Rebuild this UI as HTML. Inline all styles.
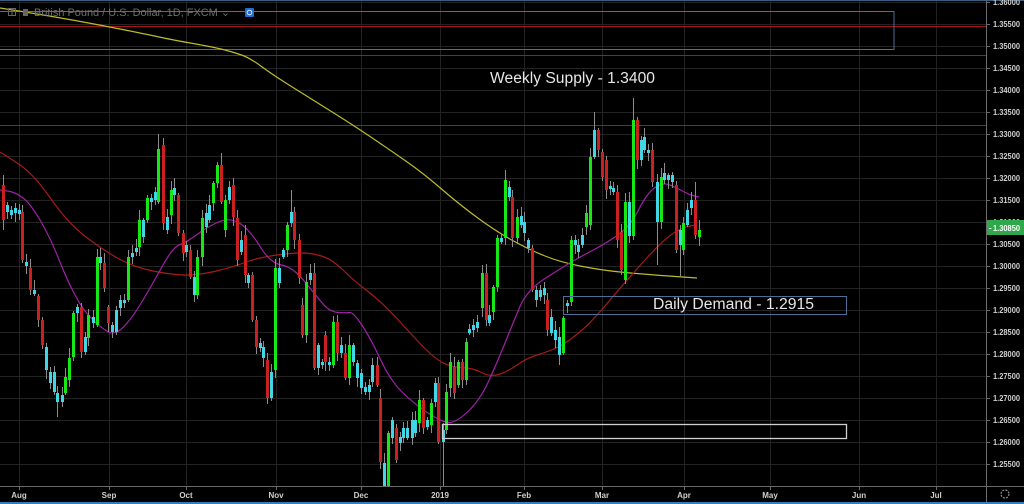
<!DOCTYPE html>
<html><head><meta charset="utf-8"><style>
html,body{margin:0;padding:0;background:#000;width:1024px;height:504px;overflow:hidden}
svg{display:block}
text{font-family:"Liberation Sans",Arial,sans-serif}
</style></head><body>
<svg id="s" width="1024" height="504" viewBox="0 0 1024 504" xmlns="http://www.w3.org/2000/svg">
<rect x="0" y="0" width="1024" height="504" fill="#000"/>
<g id="grid" stroke="#232323" stroke-width="1"></g>
<line x1="0" y1="0.5" x2="1024" y2="0.5" stroke="#3b5f80" stroke-width="1"/>
<!-- red horizontal levels -->
<line x1="0" y1="26.5" x2="986" y2="26.5" stroke="#a31818" stroke-width="1"/>
<line x1="0" y1="55.5" x2="986" y2="55.5" stroke="#a31818" stroke-width="1"/>
<line x1="0" y1="125.5" x2="986" y2="125.5" stroke="#a31818" stroke-width="1"/>
<!-- top blue zone -->
<rect x="-1" y="11.5" width="895" height="38" fill="none" stroke="#4d6e96" stroke-width="1"/>
<g id="ma"></g>
<g id="candles"></g>
<!-- demand boxes -->
<rect x="563.5" y="296.5" width="283" height="18" fill="none" stroke="#4d6e96" stroke-width="1"/>
<rect x="442.5" y="424.5" width="404" height="14" fill="none" stroke="#cfcfcf" stroke-width="1.3"/>
<text x="490" y="83" font-size="15.5" fill="#e6e6e6" textLength="165" lengthAdjust="spacingAndGlyphs">Weekly Supply - 1.3400</text>
<text x="653" y="309" font-size="15.5" fill="#e6e6e6" textLength="161" lengthAdjust="spacingAndGlyphs">Daily Demand - 1.2915</text>
<!-- title -->
<rect x="8.5" y="8.5" width="7" height="7" fill="none" stroke="#666" stroke-width="1"/>
<line x1="12" y1="9" x2="12" y2="15" stroke="#666"/>
<rect x="23" y="9" width="5" height="7" fill="#666"/>
<text x="34" y="16" font-size="11" fill="#6e6e6e" textLength="196" lengthAdjust="spacingAndGlyphs">British Pound / U.S. Dollar, 1D, FXCM ⌄</text>
<rect x="245" y="8" width="9" height="9" rx="1" fill="#1e6fd0"/>
<circle cx="249.5" cy="12.5" r="2.3" fill="none" stroke="#cfe3ff" stroke-width="1"/>
<!-- axes -->
<line x1="986.5" y1="0" x2="986.5" y2="502" stroke="#6a6a6a" stroke-width="1"/>
<line x1="0" y1="486.5" x2="1024" y2="486.5" stroke="#6a6a6a" stroke-width="1"/>
<g id="axis" font-size="8" font-weight="bold" fill="#cfcfcf"></g>
<rect x="987" y="220" width="37" height="15" fill="#2ea84a"/>
<text x="989" y="230.5" font-size="8" font-weight="bold" fill="#fff">-</text>
<text x="993" y="231" font-size="8" font-weight="bold" fill="#fff" textLength="27" lengthAdjust="spacingAndGlyphs">1.30850</text>
<circle cx="1005" cy="494" r="4" fill="none" stroke="#8a8a8a" stroke-width="1.2" stroke-dasharray="2 1.2"/>
<line x1="0" y1="503" x2="1024" y2="503" stroke="#2f7fc0" stroke-width="2"/>
</svg>
<script>
(function(){
var NS="http://www.w3.org/2000/svg";
function el(n,a,p){var e=document.createElementNS(NS,n);for(var k in a)e.setAttribute(k,a[k]);p.appendChild(e);return e;}
var grid=document.getElementById('grid'),axis=document.getElementById('axis');
// horizontal grid + price labels
for(var i=0;i<22;i++){
  var y=2+22*i;
  el('line',{x1:0,y1:y+0.5,x2:986,y2:y+0.5},grid);
  el('line',{x1:986,y1:y+0.5,x2:990,y2:y+0.5,stroke:'#6a6a6a'},axis);
  var v=(1.36-0.005*i).toFixed(5);
  if(i===10) continue;
  var t=el('text',{x:993,y:y+3,textLength:27,lengthAdjust:'spacingAndGlyphs'},axis);t.textContent=v;
}
// 1.31000 partly hidden
var t2=el('text',{x:993,y:225,textLength:27,lengthAdjust:'spacingAndGlyphs'},axis);t2.textContent='1.31000';
// vertical grid + month labels
var M=[[19,'Aug'],[109,'Sep'],[186,'Oct'],[276,'Nov'],[361,'Dec'],[440,'2019'],[524,'Feb'],[602,'Mar'],[684,'Apr'],[770,'May'],[859,'Jun'],[936,'Jul']];
M.forEach(function(m){
  el('line',{x1:m[0]+0.5,y1:0,x2:m[0]+0.5,y2:486},grid);
  el('line',{x1:m[0]+0.5,y1:486,x2:m[0]+0.5,y2:490,stroke:'#6a6a6a'},axis);
  var t=el('text',{x:m[0],y:498,'text-anchor':'middle'},axis);t.textContent=m[1];
});
// moving averages
var ma=document.getElementById('ma');
function line(pts,col){
  var d='M'+pts[0][0]+' '+pts[0][1];
  for(var i=1;i<pts.length;i++){
    var p0=pts[i-1],p1=pts[i],mx=(p0[0]+p1[0])/2,my=(p0[1]+p1[1])/2;
    if(i==1) d+=' L'+mx+' '+my; else d+=' Q'+p0[0]+' '+p0[1]+' '+mx+' '+my;
  }
  var l=pts[pts.length-1];d+=' L'+l[0]+' '+l[1];
  el('path',{d:d,fill:'none',stroke:col,'stroke-width':1.2,'stroke-linejoin':'round'},ma);
}
line([[0,8],[50,16],[100,25],[150,35],[173,40],[213,47],[233,52],[250,58],[273,75],[313,100],[353,125],[390,150],[423,173],[460,205],[497,232],[530,250],[560,262],[600,270],[640,274],[697,278]],'#bcbc2c');
line([[0,152],[33,173],[67,222],[100,248],[133,267],[173,275],[200,275],[233,267],[257,258],[290,253],[313,253],[333,260],[353,280],[383,303],[410,333],[433,357],[450,367],[473,368],[490,377],[507,372],[527,358],[547,352],[563,345],[580,332],[593,320],[627,280],[663,240],[683,227],[697,225]],'#a51a1a');
line([[0,190],[15,192],[30,203],[50,237],[67,280],[83,310],[100,327],[115,336],[133,317],[153,283],[173,247],[187,242],[207,227],[230,217],[250,230],[270,263],[293,267],[317,297],[330,312],[347,313],[353,312],[370,337],[390,380],[413,403],[443,423],[457,422],[480,400],[497,363],[513,323],[527,290],[563,267],[580,257],[603,245],[630,227],[647,193],[663,182],[677,188],[690,195],[699,197]],'#a020a8');
// candles
var D=[
[3,185,220,'r',175,230],[7,205,212,'c'],[11,210,215,'c'],[15,208,213,'c'],[19,210,214,'c'],[22,212,260,'r'],[26,262,266,'c'],[30,268,290,'r'],[34,290,294,'c'],[38,296,320,'r'],[42,320,345,'r'],[46,347,370,'c'],[50,372,383,'c'],[54,372,392,'c'],[57,393,402,'c',0,417],[62,395,402,'c'],[65,377,393,'g'],[69,358,380,'g'],[73,313,357,'g'],[77,307,313,'c'],[81,307,352,'r'],[85,337,352,'c'],[88,315,338,'g'],[93,317,323,'c'],[97,257,325,'g'],[100,257,263,'c'],[104,263,288,'r'],[108,307,323,'r'],[112,325,332,'c'],[116,310,332,'c'],[120,300,308,'c'],[124,300,303,'c'],[128,257,300,'g'],[132,253,257,'c'],[136,248,252,'c'],[139,220,247,'g'],[143,220,237,'c'],[147,198,220,'g'],[151,198,202,'c'],[155,192,200,'c'],[158,149,202,'g',134],[163,145,223,'r'],[167,217,230,'c'],[171,190,215,'g'],[174,188,195,'c'],[178,195,233,'r'],[183,233,253,'r'],[186,245,252,'c'],[190,250,277,'r'],[194,277,295,'c'],[197,257,295,'g'],[202,218,257,'g'],[206,213,227,'c'],[209,205,220,'c'],[213,183,203,'g'],[217,165,183,'g'],[221,165,202,'r',153],[225,200,230,'g'],[229,187,200,'c'],[233,185,217,'r'],[237,218,260,'r'],[241,240,252,'c'],[245,235,275,'r'],[248,275,283,'c'],
[252,275,320,'r'],[256,320,347,'r'],[260,343,348,'c'],[263,347,358,'c'],[267,360,398,'r'],[271,372,398,'c'],[275,268,370,'g'],[279,268,283,'c'],[283,250,257,'c'],[287,225,250,'g'],[291,212,223,'c',190],[294,212,240,'r'],[299,240,278,'r'],[302,305,335,'r'],[306,282,335,'g'],[310,273,280,'c'],[314,273,368,'r'],[318,345,368,'c'],[322,362,365,'c'],[325,335,362,'r'],[329,362,365,'c'],[333,322,365,'g'],[337,322,353,'r'],[341,345,353,'c'],[345,353,378,'r'],[349,345,378,'g'],[353,345,362,'c'],[357,363,378,'c'],[361,373,388,'c'],[365,387,392,'c'],[369,385,392,'c'],[372,365,382,'c'],[377,365,385,'r'],[380,398,462,'r'],[384,463,486,'c',0,486],[388,433,486,'g',0,486],[392,420,438,'c'],[396,428,460,'r'],[400,437,443,'c'],[403,428,438,'c'],[407,428,438,'c'],[412,420,438,'c'],[415,420,433,'c'],[419,400,423,'g'],[423,400,428,'r'],[427,420,427,'c'],[431,403,425,'g'],[435,383,402,'c'],[438,383,442,'r'],[443,430,442,'c',0,486],[446,392,430,'g'],[450,362,388,'g'],[454,367,393,'r'],[458,362,385,'g'],[462,362,380,'r'],[466,342,380,'g'],[469,329,333,'c'],[473,325,330,'c'],[477,322,328,'c'],[482,273,308,'g'],[486,273,320,'r'],[489,315,323,'c'],[493,287,312,'g'],[497,238,287,'g'],[501,238,242,'c'],[505,180,238,'g',170],[509,187,197,'c'],[512,197,238,'r'],[517,217,238,'g'],[521,216,225,'c'],[524,222,233,'c'],[528,240,248,'c'],[532,248,290,'r'],[536,290,300,'c'],[540,290,297,'c'],[544,288,295,'c'],[547,300,330,'r'],[551,317,333,'c'],[555,330,340,'c'],[559,337,355,'c',0,365],[563,318,353,'g'],[567,303,306,'c'],[571,240,302,'g'],[575,240,245,'c'],[578,245,252,'c'],[582,235,245,'c'],[586,213,227,'g'],[590,157,225,'g'],[594,130,157,'c',112],[598,130,150,'r'],[602,152,177,'r'],[606,160,190,'r'],[610,186,189,'c'],[613,188,192,'c'],[617,192,240,'r'],[621,232,270,'r'],[625,202,280,'g',0,284],[629,202,236,'c'],[633,120,236,'g',98],[637,120,160,'r'],[641,140,160,'c'],[644,137,150,'c',128],[648,150,153,'c'],[652,150,182,'r'],[657,182,222,'c',0,265],[661,177,222,'g'],[664,173,180,'c'],[668,175,180,'c'],[672,175,182,'c'],[676,185,250,'r'],[680,230,245,'c',0,277],[683,223,250,'g'],[687,210,225,'c'],[691,200,208,'c'],[695,200,235,'r',182],[699,230,237,'g']
];
var col={r:'#cc1f1f',g:'#16e816',c:'#40d6e6'};
var cg=document.getElementById('candles');
D.forEach(function(c,i){
  var x=c[0],t=Math.min(c[1],c[2]),b=Math.max(c[1],c[2]);
  var wt=c[4]?c[4]:t-(2+(i*37)%9);
  var wb=c[5]?c[5]:b+(2+(i*53)%8);
  el('line',{x1:x+0.5,y1:wt,x2:x+0.5,y2:wb,stroke:'#8c8c8c','stroke-width':1},cg);
  el('rect',{x:x-1,y:t,width:3,height:Math.max(2,b-t),fill:col[c[3]]},cg);
});
})();
</script>
</body></html>
